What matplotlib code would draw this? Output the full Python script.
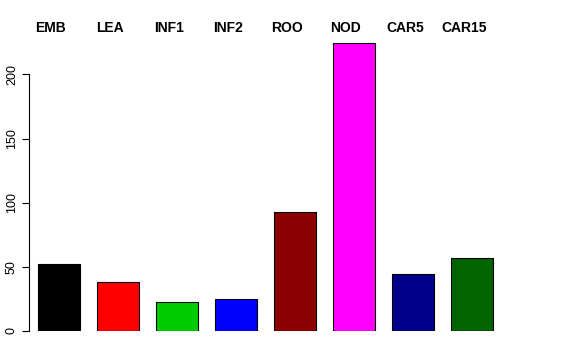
import matplotlib
matplotlib.use("Agg")
import matplotlib.pyplot as plt
import matplotlib.transforms as mtransforms
import numpy as np

categories = ["EMB", "LEA", "INF1", "INF2", "ROO", "NOD", "CAR5", "CAR15"]
values = [52.3, 38.3, 22.4, 24.7, 92.7, 224.4, 44.7, 57.0]
colors = ["black", "#FF0000", "#00CD00", "#0000FF", "#8B0000", "#FF00FF", "#00008B", "#006400"]
yticks = [0, 50, 100, 150, 200]

plt.rcParams["font.family"] = ["Liberation Sans", "DejaVu Sans"]

fig = plt.figure(figsize=(5.76, 3.6), dpi=100)
ax = fig.add_axes([0.0503, 0.0806, 0.8408, 0.8372])

x = np.arange(len(categories))
ax.bar(x, values, width=0.712, color=colors, edgecolor="black", linewidth=0.8)

ax.set_xlim(-0.508, 7.7)
ax.set_ylim(0, 235)

for s in ["top", "right", "bottom"]:
	ax.spines[s].set_visible(False)
ax.spines["left"].set_bounds(0, 200)
ax.spines["left"].set_linewidth(0.8)
ax.set_xticks([])
ax.set_yticks(yticks)
ax.set_yticklabels([str(t) for t in yticks], rotation=90, va="center", fontsize=9)
ax.tick_params(axis="y", length=5, width=0.8, pad=3)

# category names on top, bold
trans = mtransforms.blended_transform_factory(ax.transData, fig.transFigure)
for xi, name in zip(x, categories):
	ax.text(xi - 0.135, 1 - 28 / 360, name, transform=trans, ha="center", va="center",
		fontsize=10, fontweight="bold", clip_on=False)

fig.savefig("out.png", dpi=100)
